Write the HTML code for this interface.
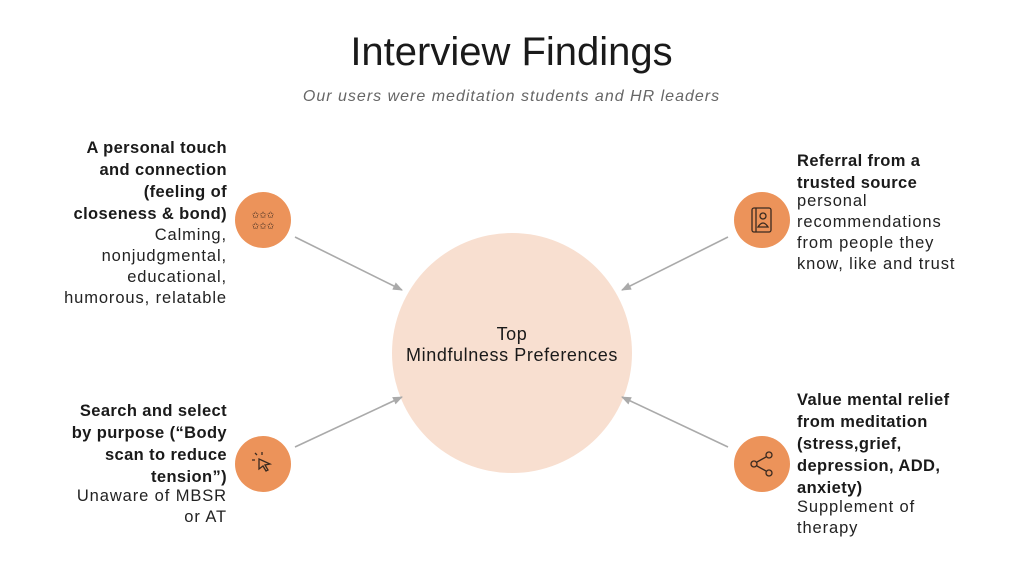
<!DOCTYPE html>
<html><head><meta charset="utf-8"><style>
html,body{margin:0;padding:0;background:#fff;}
body{width:1023px;height:575px;position:relative;overflow:hidden;font-family:"Liberation Sans",sans-serif;color:#222;}
.t{position:absolute;white-space:nowrap;}
.b{font-size:16.5px;line-height:22px;color:#1a1a1a;font-weight:bold;letter-spacing:0.4px;}
.r{font-size:16.5px;line-height:21px;color:#222;letter-spacing:0.9px;}
.L{text-align:right;}
</style></head><body>
<div class="t" style="left:0;width:1023px;top:30px;text-align:center;font-size:40px;color:#1a1a1a;">Interview Findings</div>
<div class="t" style="left:0;width:1023px;top:88px;text-align:center;font-size:16px;letter-spacing:1px;font-style:italic;color:#666;">Our users were meditation students and HR leaders</div>

<svg width="1023" height="575" style="position:absolute;left:0;top:0">
<defs><marker id="a" markerWidth="10" markerHeight="8" refX="9" refY="4" orient="auto" markerUnits="userSpaceOnUse"><path d="M0,0 L10,4 L0,8 Z" fill="#aaa"/></marker></defs>
<circle cx="512" cy="353" r="120" fill="#f8dfd0"/>
<g stroke="#aaa" stroke-width="1.6" marker-end="url(#a)">
<line x1="295" y1="237" x2="402" y2="290"/>
<line x1="728" y1="237" x2="622" y2="290"/>
<line x1="295" y1="447" x2="402" y2="397"/>
<line x1="728" y1="447" x2="622" y2="397"/>
</g>
<circle cx="263" cy="220" r="28" fill="#ec935a"/>
<circle cx="762" cy="220" r="28" fill="#ec935a"/>
<circle cx="263" cy="464" r="28" fill="#ec935a"/>
<circle cx="762" cy="464" r="28" fill="#ec935a"/>
<g fill="none" stroke="#3a2a20" stroke-width="1.3">
<text x="263" y="218" font-size="9" text-anchor="middle" fill="#3a2a20" stroke="none">✩✩✩</text>
<text x="263" y="229" font-size="9" text-anchor="middle" fill="#3a2a20" stroke="none">✩✩✩</text>
<rect x="752" y="208" width="19" height="24" rx="2"/>
<line x1="756" y1="208" x2="756" y2="232"/>
<circle cx="763" cy="216" r="3"/>
<path d="M758,227 q5,-8 10,0 z"/>
<path d="M259,459 l11,5 l-5,1 l3,5 l-2,1 l-3,-5 l-4,3 z"/>
<path d="M255,453 l2,2 M262,452 v3 M252,460 h3"/>
<circle cx="769" cy="455" r="3"/><circle cx="769" cy="473" r="3"/><circle cx="754" cy="464" r="3"/>
<path d="M757,462 l9,-5 M757,466 l9,5"/>
</g>
<text x="512" y="340" text-anchor="middle" font-size="18" letter-spacing="0.6" fill="#1a1a1a" font-family="Liberation Sans">Top</text>
<text x="512" y="361" text-anchor="middle" font-size="18" letter-spacing="0.6" fill="#1a1a1a" font-family="Liberation Sans">Mindfulness Preferences</text>
</svg>

<div class="t L" style="right:796px;top:137px;">
<div class="b">A personal touch<br>and connection<br>(feeling of<br>closeness &amp; bond)</div>
<div class="r">Calming,<br>nonjudgmental,<br>educational,<br>humorous, relatable</div>
</div>
<div class="t" style="left:797px;top:150px;">
<div class="b">Referral from a<br>trusted source</div>
<div class="r" style="margin-top:-3px">personal<br>recommendations<br>from people they<br>know, like and trust</div>
</div>
<div class="t L" style="right:796px;top:400px;">
<div class="b">Search and select<br>by purpose (“Body<br>scan to reduce<br>tension”)</div>
<div class="r" style="margin-top:-2px">Unaware of MBSR<br>or AT</div>
</div>
<div class="t" style="left:797px;top:389px;">
<div class="b">Value mental relief<br>from meditation<br>(stress,grief,<br>depression, ADD,<br>anxiety)</div>
<div class="r" style="margin-top:-2px">Supplement of<br>therapy</div>
</div>
</body></html>
